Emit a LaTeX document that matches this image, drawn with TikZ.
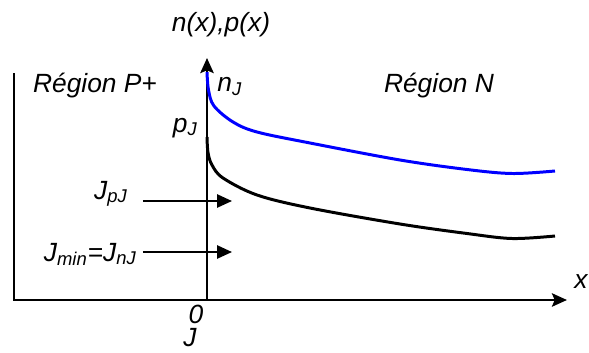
\documentclass[tikz,border=0pt]{standalone}
\usepackage{fontspec}
\setmainfont{Liberation Sans}
\usetikzlibrary{arrows.meta}
\begin{document}
\begin{tikzpicture}[
    font=\fontsize{15}{18}\selectfont\itshape,
    axis/.style={line width=1.7pt, -{Stealth[length=8.5pt,width=7.5pt,inset=1.5pt]}},
    flux/.style={line width=1.1pt, -{Triangle[length=8.5pt,width=7.5pt]}},
    conc/.style={line width=1.7pt}]
    \useasboundingbox (-4.14,-1.04) rectangle (7.64,6.0);

    % Axes
    \coordinate (O) at (0,0);
    \coordinate (lefttop) at (-3.86,4.54);
    \coordinate (leftbot) at (-3.86,0);
    \coordinate (xend) at (7.2,0);
    \coordinate (yend) at (0,4.84);
    \draw[axis] (lefttop) -- (leftbot) -- (xend);
    \draw[axis] (O) -- (yend);

    % Concentrations n(x) and p(x)
    \draw[conc, blue] plot[smooth, tension=0.55] coordinates {(0,4.56) (0.03,4.2) (0.14,3.88) (0.52,3.56) (1.0,3.36) (2.06,3.14) (3.86,2.8) (5.2,2.61) (6.1,2.53) (6.96,2.58)};
    \draw[conc] plot[smooth, tension=0.55] coordinates {(0,3.26) (0.02,2.95) (0.1,2.7) (0.32,2.44) (1.0,2.1) (2.06,1.84) (3.86,1.52) (5.2,1.33) (6.1,1.23) (6.96,1.28)};

    % Currents
    \coordinate (jp0) at (-1.28,1.98);
    \coordinate (jp1) at (0.5,1.98);
    \coordinate (jn0) at (-1.28,0.96);
    \coordinate (jn1) at (0.5,0.96);
    \draw[flux] (jp0) -- (jp1);
    \draw[flux] (jn0) -- (jn1);

    % Labels
    \node[anchor=base] (ylab) at (0.28,5.36) {n(x),p(x)};
    \node[anchor=base] (regp) at (-2.24,4.14) {Région P+};
    \node[anchor=base] (regn) at (4.64,4.14) {Région N};
    \node[anchor=base west, inner sep=0] (nj) at (0.2,4.16) {n\textsubscript{J}};
    \node[anchor=base east, inner sep=0] (pj) at (-0.18,3.36) {p\textsubscript{J}};
    \node[anchor=base east, inner sep=0] (jpj) at (-1.58,2.02) {J\textsubscript{pJ}};
    \node[anchor=base east, inner sep=0] (jmin) at (-1.4,0.78) {J\textsubscript{min}=J\textsubscript{nJ}};
    \node[anchor=base, inner sep=0] (zero) at (-0.22,-0.46) {0};
    \node[anchor=base, inner sep=0] (jlab) at (-0.34,-0.92) {J};
    \node[anchor=base east, inner sep=0] (xlab) at (7.62,0.24) {x};
\end{tikzpicture}
\end{document}
